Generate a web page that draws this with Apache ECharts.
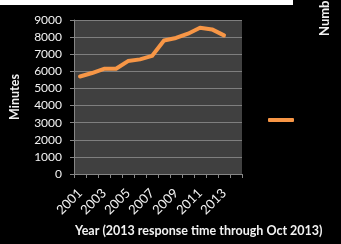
<!DOCTYPE html>
<html><head><meta charset="utf-8">
<script src="https://cdn.jsdelivr.net/npm/echarts@6/dist/echarts.min.js"></script>
<style>html,body{margin:0;padding:0;background:#000;}#c{width:341px;height:244px;}</style>
</head><body><div id="c"></div>
<script>
const categories = ['2001','2002','2003','2004','2005','2006','2007','2008','2009','2010','2011','2012','2013',''];
const minutes = [5700,5900,6150,6150,6600,6700,6900,7800,7950,8200,8550,8450,8100];
const yTicks = [0,1000,2000,3000,4000,5000,6000,7000,8000,9000];
const seriesName = 'Response time';
const xTitle = 'Year (2013 response time through Oct 2013)';
const yTitle = 'Minutes';
const sideText = 'Numb';

const chart = echarts.init(document.getElementById('c'), null, {renderer:'canvas'});
const font = 'Lato, "Open Sans", sans-serif';
chart.setOption({
  backgroundColor:'#000',
  animation:false,
  grid:{left:70, top:20, width:172, height:154, show:true, backgroundColor:'#404040', borderWidth:0},
  title:{text:xTitle, left:70, top:219, textStyle:{color:'#f2f2f2', fontSize:12.5, fontWeight:'bold', fontFamily:font}},
  legend:{left:263, top:113, itemWidth:26, itemHeight:4, icon:'roundRect', formatter:()=> '', data:[seriesName],
    itemStyle:{color:'#F79646'}},
  xAxis:{type:'category', data:categories, boundaryGap:true,
    axisLine:{lineStyle:{color:'#868686'}},
    axisTick:{show:true, interval:0, length:4, lineStyle:{color:'#868686'}},
    axisLabel:{interval:1, rotate:45, margin:17, color:'#f2f2f2', fontSize:13, fontFamily:font},
    splitLine:{show:false}},
  yAxis:{type:'value', min:yTicks[0], max:yTicks[yTicks.length-1], interval:1000,
    name:yTitle, nameLocation:'middle', nameRotate:90, nameGap:53,
    nameTextStyle:{color:'#f2f2f2', fontSize:12.5, fontWeight:'bold', fontFamily:font},
    axisLine:{show:true, lineStyle:{color:'#868686'}},
    axisTick:{show:true, length:4, lineStyle:{color:'#868686'}},
    axisLabel:{color:'#f2f2f2', fontSize:12, margin:12, fontFamily:font, formatter:v=>String(v)},
    splitLine:{lineStyle:{color:'#7f7f7f', width:1}}},
  series:[{name:seriesName, type:'line', data:minutes, showSymbol:false, smooth:false,
    lineStyle:{color:'#F79646', width:4, cap:'round', join:'round'}, itemStyle:{color:'#F79646'}}],
  graphic:[
    {type:'rect', left:0, top:0, shape:{width:293, height:5}, style:{fill:'#fff'}},
    {type:'text', x:331, y:36, rotation:Math.PI/2,
      style:{text:sideText, fill:'#f2f2f2', font:'bold 13px '+font, textAlign:'left', textVerticalAlign:'bottom'}}
  ]
});
</script></body></html>
